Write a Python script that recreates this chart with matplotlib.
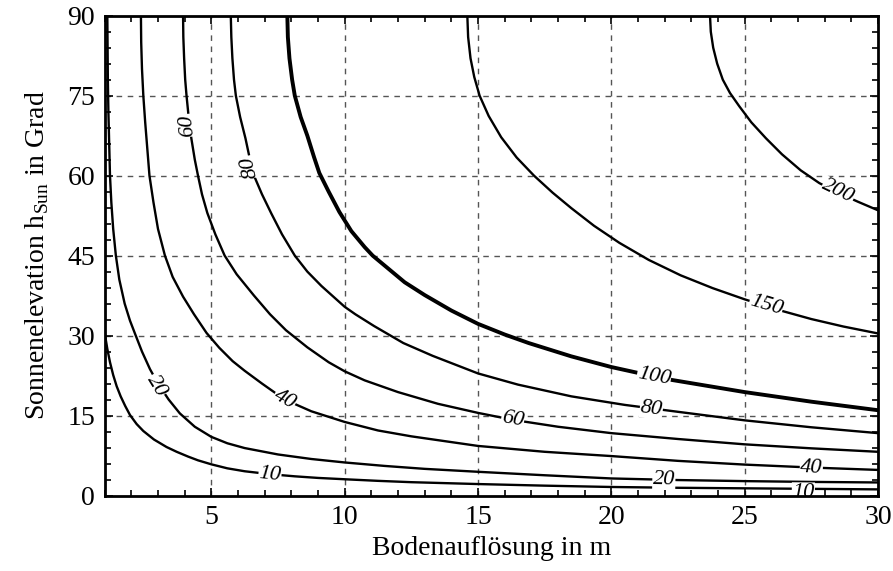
import numpy as np
import matplotlib.pyplot as plt
from matplotlib.ticker import MultipleLocator

# contour levels and the curves (x = Bodenaufloesung in m, y = h_Sun in Grad)
levels = [10, 20, 40, 60, 80, 100, 150, 200]

c10_x = [1.0, 1.1, 1.2, 1.32, 1.45, 1.6, 1.77, 1.95, 2.2, 2.45, 2.85, 3.32, 3.7, 4.13, 4.5, 5.0, 5.6, 6.25,
         7.2, 8.13, 9.0, 10.0, 11.25, 12.5, 15.0, 17.5, 20.0, 22.5, 25.0, 27.5, 30.0]
c10_y = [30.5, 27.5, 25.0, 22.6, 20.5, 18.6, 16.8, 15.1, 13.4, 12.1, 10.5, 9.1, 8.2, 7.3, 6.6, 5.85, 5.1, 4.55,
         4.0, 3.6, 3.3, 3.05, 2.75, 2.5, 2.15, 1.85, 1.6, 1.45, 1.35, 1.25, 1.15]

c20_x = [1.1, 1.11, 1.12, 1.14, 1.17, 1.2, 1.25, 1.32, 1.42, 1.55, 1.75, 1.95, 2.15, 2.4, 2.7, 3.0, 3.4, 3.82,
         4.38, 5.0, 5.6, 6.25, 7.5, 8.75, 10.0, 11.5, 13.0, 15.0, 17.5, 20.0, 22.5, 25.0, 27.5, 30.0]
c20_y = [90.0, 84.0, 78.0, 72.0, 66.0, 60.0, 55.0, 50.0, 45.0, 40.5, 36.0, 32.8, 30.2, 27.0, 23.7, 21.0, 18.0, 15.4,
         12.9, 11.0, 9.8, 8.9, 7.7, 6.85, 6.2, 5.55, 5.0, 4.45, 3.8, 3.2, 2.9, 2.7, 2.55, 2.45]

c40_x = [2.36, 2.37, 2.4, 2.45, 2.52, 2.6, 2.68, 2.83, 3.0, 3.26, 3.55, 3.94, 4.35, 4.82, 5.3, 5.8, 6.25, 6.9,
         7.75, 8.75, 10.0, 11.25, 12.5, 15.0, 17.5, 20.0, 22.5, 25.0, 27.5, 30.0]
c40_y = [90.0, 85.0, 80.0, 75.0, 70.0, 65.0, 60.0, 55.0, 50.0, 45.0, 41.0, 37.3, 34.0, 30.5, 27.7, 25.2, 23.4, 21.0,
         18.0, 15.8, 13.8, 12.2, 11.1, 9.3, 8.2, 7.4, 6.5, 5.8, 5.25, 4.8]

c60_x = [3.94, 3.95, 3.98, 4.02, 4.07, 4.15, 4.25, 4.38, 4.5, 4.65, 4.85, 5.15, 5.5, 5.95, 6.6, 7.2, 7.8, 8.6,
         9.4, 10.0, 10.75, 12.0, 13.5, 15.0, 16.3, 18.0, 20.0, 22.5, 25.0, 27.5, 30.0]
c60_y = [90.0, 86.0, 82.0, 78.0, 75.0, 71.0, 67.0, 63.0, 60.0, 56.5, 53.0, 49.0, 45.0, 41.5, 37.5, 34.0, 31.0, 27.8,
         25.0, 23.3, 21.6, 19.4, 17.2, 15.5, 14.2, 12.9, 11.7, 10.6, 9.6, 8.85, 8.2]

c80_x = [5.73, 5.75, 5.79, 5.85, 5.92, 6.08, 6.28, 6.45, 6.6, 6.9, 7.25, 7.65, 8.13, 8.6, 9.13, 10.0, 10.4, 11.1,
         12.2, 13.3, 15.0, 16.5, 18.5, 20.5, 22.5, 25.0, 27.5, 30.0]
c80_y = [90.0, 86.0, 82.0, 78.0, 75.0, 71.0, 67.0, 63.0, 60.0, 56.5, 52.9, 49.0, 45.0, 42.0, 39.3, 35.4, 34.0, 31.8,
         28.6, 26.2, 22.9, 20.8, 18.6, 17.0, 15.7, 14.1, 12.8, 11.7]

c100_x = [7.85, 7.87, 7.93, 8.03, 8.13, 8.35, 8.6, 8.85, 9.05, 9.4, 9.8, 10.25, 10.75, 11.05, 12.25, 13.0, 14.0,
          15.0, 16.0, 16.9, 18.5, 20.0, 22.0, 25.0, 27.5, 30.0]
c100_y = [90.0, 86.0, 82.0, 78.0, 75.0, 71.0, 67.5, 63.5, 60.5, 57.0, 53.2, 49.6, 46.6, 45.0, 40.0, 37.6, 34.7,
          32.2, 30.2, 28.6, 26.1, 24.1, 21.9, 19.4, 17.6, 16.0]

c150_x = [14.6, 14.63, 14.72, 14.86, 15.06, 15.4, 15.87, 16.45, 17.1, 17.8, 18.5, 19.35, 20.3, 21.4, 22.6, 23.8,
          25.0, 26.2, 27.5, 28.7, 30.0]
c150_y = [90.0, 86.0, 82.0, 78.5, 75.0, 71.2, 67.2, 63.4, 60.0, 56.8, 53.9, 50.6, 47.4, 44.2, 41.3, 38.9,
          36.8, 34.9, 33.1, 31.7, 30.4]

c200_x = [23.7, 23.73, 23.82, 23.97, 24.18, 24.45, 24.8, 25.25, 25.8, 26.4, 27.1, 27.8, 28.5, 29.25, 30.0]
c200_y = [90.0, 87.0, 84.0, 81.0, 78.0, 75.5, 73.0, 70.0, 67.0, 64.0, 61.0, 58.6, 56.8, 55.1, 53.5]

curves = {10: (c10_x, c10_y), 20: (c20_x, c20_y), 40: (c40_x, c40_y), 60: (c60_x, c60_y),
          80: (c80_x, c80_y), 100: (c100_x, c100_y), 150: (c150_x, c150_y), 200: (c200_x, c200_y)}

# contour labels: level, position, flipped (upside down as in the original)
label_level = [60, 80, 20, 40, 10, 60, 80, 100, 150, 200, 20, 40, 10]
label_x = [4.1, 6.44, 2.95, 7.75, 7.2, 16.3, 21.5, 21.6, 25.8, 28.5, 21.97, 27.5, 27.2]
label_y = [69.4, 61.6, 20.6, 18.0, 4.0, 14.2, 16.3, 22.3, 35.6, 57.0, 3.0, 5.25, 0.6]
label_flip = [True, True, False, False, False, False, False, False, False, False, False, False, False]

xticks = [5, 10, 15, 20, 25, 30]
yticks = [0, 15, 30, 45, 60, 75, 90]

plt.rcParams['font.family'] = ['Liberation Serif', 'DejaVu Serif']
plt.rcParams['mathtext.fontset'] = 'custom'
plt.rcParams['mathtext.rm'] = 'Liberation Serif'

fig = plt.figure(figsize=(8.93, 5.71), dpi=100)
ax = fig.add_axes([0.1172, 0.1322, 0.8660, 0.8403])
ax.set_xlim(1, 30)
ax.set_ylim(0, 90)

ax.set_xticks(xticks)
ax.set_yticks(yticks)
ax.xaxis.set_minor_locator(MultipleLocator(1))
ax.yaxis.set_minor_locator(MultipleLocator(3))
ax.tick_params(which='both', direction='in', top=True, right=True, labelsize=20, width=1.2)
ax.tick_params(which='major', length=6, pad=7)
ax.tick_params(which='minor', length=4)
for s in ax.spines.values():
    s.set_linewidth(2)

for g in xticks[:-1]:
    ax.axvline(g, color='#555555', lw=1, ls=(0, (4, 4)), zorder=1)
for g in yticks[1:-1]:
    ax.axhline(g, color='#555555', lw=1, ls=(0, (4, 4)), zorder=1)

for lev in levels:
    xs, ys = curves[lev]
    lw = 2.8 if lev == 100 else 1.7
    ax.plot(xs, ys, color='black', lw=lw, zorder=2, solid_joinstyle='round')

fig.canvas.draw()


def label_angle(xs, ys, x0, y0):
    pts = ax.transData.transform(np.column_stack([xs, ys]))
    p0 = ax.transData.transform((x0, y0))
    d = np.hypot(pts[:, 0] - p0[0], pts[:, 1] - p0[1])
    i = int(np.argmin(d))
    i0 = max(i - 1, 0)
    i1 = min(i + 1, len(xs) - 1)
    dx, dy = pts[i1] - pts[i0]
    ang = np.degrees(np.arctan2(dy, dx))
    if ang > 90:
        ang -= 180
    if ang < -90:
        ang += 180
    return ang


for lev, lx, ly, fl in zip(label_level, label_x, label_y, label_flip):
    xs, ys = curves[lev]
    ang = label_angle(xs, ys, lx, ly)
    if fl:
        ang += 180
    ax.text(lx, ly, str(lev), rotation=ang, rotation_mode='anchor', ha='center', va='center',
            fontsize=16, style='italic', zorder=2.4, clip_on=True,
            bbox=dict(facecolor='white', edgecolor='none', pad=0.3))

ax.set_xlabel('Bodenauflösung in m', fontsize=20, labelpad=4)
ax.set_ylabel(r'Sonnenelevation h$_{\mathrm{Sun}}$ in Grad', fontsize=20, labelpad=12)

fig.savefig('out.png', dpi=100)
